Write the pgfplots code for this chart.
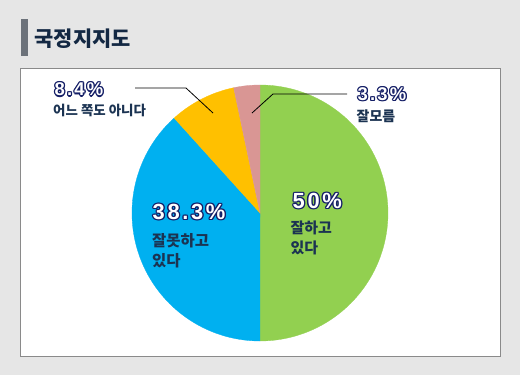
\documentclass[border=0pt]{standalone}
\usepackage{pgfplots}
\pgfplotsset{compat=1.18}
\usepackage{fontspec}
\setmainfont{Liberation Sans}
\newfontfamily\kr{Noto Sans CJK KR}
\newfontfamily\numf{Liberation Sans}[LetterSpace=12]
\definecolor{bg}{HTML}{E6E6E6}
\definecolor{border}{HTML}{8A8A8A}
\definecolor{bar}{HTML}{6C727A}
\definecolor{titlec}{HTML}{132843}
\definecolor{labc}{HTML}{1B3352}
\definecolor{outl}{HTML}{141E66}
\definecolor{pgreen}{HTML}{92D050}
\definecolor{pblue}{HTML}{00B0F0}
\definecolor{pyellow}{HTML}{FFC000}
\definecolor{ppink}{HTML}{D99694}
\tikzset{olt/.style={anchor=west,inner sep=0pt,text=outl},
         olw/.style={anchor=west,inner sep=0pt,text=white},
         klab/.style={anchor=west,inner sep=0pt,text=labc,align=left}}
\newcommand\olab[3]{%
 \node[olt,xshift=-1.3pt] at (axis cs:#1,#2) {#3};
 \node[olt,xshift=1.3pt] at (axis cs:#1,#2) {#3};
 \node[olt,yshift=-1.3pt] at (axis cs:#1,#2) {#3};
 \node[olt,yshift=1.3pt] at (axis cs:#1,#2) {#3};
 \node[olt,xshift=-0.95pt,yshift=-0.95pt] at (axis cs:#1,#2) {#3};
 \node[olt,xshift=0.95pt,yshift=-0.95pt] at (axis cs:#1,#2) {#3};
 \node[olt,xshift=-0.95pt,yshift=0.95pt] at (axis cs:#1,#2) {#3};
 \node[olt,xshift=0.95pt,yshift=0.95pt] at (axis cs:#1,#2) {#3};
 \node[olw] at (axis cs:#1,#2) {#3};
}
% shares (percent)
\def\vA{50}
\def\vB{38.3}
\def\vC{8.4}
\def\vD{3.3}
\pgfmathsetmacro\aA{90}
\pgfmathsetmacro\aB{\aA-3.6*\vA}
\pgfmathsetmacro\aC{\aB-3.6*\vB}
\pgfmathsetmacro\aD{\aC-3.6*\vC}
\pgfmathsetmacro\aE{\aD-3.6*\vD}
\begin{document}
\begin{tikzpicture}
\fill[bg] (0,0) rectangle (520bp,375bp);
\begin{axis}[at={(0,0)},anchor=south west,scale only axis,
  width=520bp,height=375bp,xmin=0,xmax=520,ymin=0,ymax=375,
  y dir=reverse,hide axis,clip=false]
\filldraw[fill=white,draw=border,line width=1pt] (axis cs:20.7,68.3) rectangle (axis cs:500.7,356);
\fill[bar] (axis cs:20.7,19) rectangle (axis cs:27.7,56);
\node[anchor=west,inner sep=0pt,text=titlec,font=\kr\bfseries\fontsize{21}{21}\selectfont] at (axis cs:34.5,38.5) {국정지지도};
% pie slices
\addplot[fill=pgreen,draw=pgreen,line width=0.3pt,domain=\aB:\aA,samples=120] ({260+128*cos(x)},{213-128*sin(x)}) -- (axis cs:260,213) -- cycle;
\addplot[fill=pblue,draw=pblue,line width=0.3pt,domain=\aC:\aB,samples=100] ({260+128*cos(x)},{213-128*sin(x)}) -- (axis cs:260,213) -- cycle;
\addplot[fill=pyellow,draw=pyellow,line width=0.3pt,domain=\aD:\aC,samples=40] ({260+128*cos(x)},{213-128*sin(x)}) -- (axis cs:260,213) -- cycle;
\addplot[fill=ppink,draw=ppink,line width=0.3pt,domain=\aE:\aD,samples=20] ({260+128*cos(x)},{213-128*sin(x)}) -- (axis cs:260,213) -- cycle;
% leader lines
\draw[black,line width=0.8pt] (axis cs:135,88) -- (axis cs:186,88) -- (axis cs:213,113);
\draw[black,line width=0.8pt] (axis cs:347,94) -- (axis cs:273,94) -- (axis cs:252,113);
% labels
\olab{292.5}{201}{\numf\bfseries\fontsize{22}{22}\selectfont 50\%}
\node[klab,font=\kr\bfseries\fontsize{15}{20}\selectfont] at (axis cs:290.5,238) {잘하고\\있다};
\olab{152.5}{212}{\numf\bfseries\fontsize{22}{22}\selectfont 38.3\%}
\node[klab,font=\kr\bfseries\fontsize{15.5}{20}\selectfont] at (axis cs:152,250.5) {잘못하고\\있다};
\olab{54.5}{89.5}{\numf\bfseries\fontsize{18.5}{18.5}\selectfont 8.4\%}
\node[klab,font=\kr\bfseries\fontsize{13.5}{14}\selectfont] at (axis cs:53,110) {어느 쪽도 아니다};
\olab{357.5}{94}{\numf\bfseries\fontsize{18.5}{18.5}\selectfont 3.3\%}
\node[klab,font=\kr\bfseries\fontsize{14}{14}\selectfont] at (axis cs:356.5,116) {잘모름};
\end{axis}
\end{tikzpicture}
\end{document}
